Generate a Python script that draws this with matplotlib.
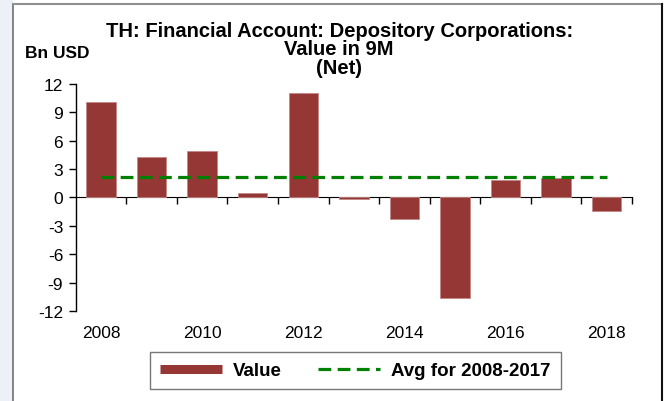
import numpy as np
import matplotlib.pyplot as plt
from matplotlib.lines import Line2D
from matplotlib.patches import Rectangle
from matplotlib.ticker import NullFormatter

# data
years = [2008, 2009, 2010, 2011, 2012, 2013, 2014, 2015, 2016, 2017, 2018]
values = [10.1, 4.3, 4.9, 0.5, 11.0, -0.2, -2.3, -10.6, 1.8, 2.1, -1.4]
avg_span = [2008, 2018]
avg_value = np.mean(values[:10])  # Avg for 2008-2017
yticks = list(range(-12, 13, 3))
xlabels = [2008, 2010, 2012, 2014, 2016, 2018]

plt.rcParams['font.family'] = ['Liberation Sans', 'DejaVu Sans']
plt.rcParams['axes.unicode_minus'] = False

fig = plt.figure(figsize=(6.69, 4.02), dpi=100)

# faint strip left of the frame and the frame itself
fig.add_artist(Rectangle((0, 0), 12/669, 1, transform=fig.transFigure,
                         color='#eef0f8', zorder=0))
fig.add_artist(Line2D([13/669, 13/669], [0, 1-5/402], transform=fig.transFigure,
                      color='#707070', lw=1.2))
fig.add_artist(Line2D([13/669, 662/669], [1-5/402, 1-5/402], transform=fig.transFigure,
                      color='#909090', lw=1.5))
fig.add_artist(Line2D([662/669, 662/669], [0, 1-5/402], transform=fig.transFigure,
                      color='#111111', lw=1.5))

ax = fig.add_axes([0.1131, 0.2239, 0.8316, 0.5647])
ax.bar(years, values, width=0.58, color='#953735', edgecolor='#c48886',
       linewidth=0.6, zorder=2)
ax.plot(avg_span, [avg_value]*2, color='#008000', lw=2.3,
        linestyle=(0, (4, 2)), zorder=3)

ax.set_xlim(2007.5, 2018.5)
ax.set_ylim(-12, 12)
ax.set_yticks(yticks)
ax.set_xticks(xlabels)
ax.tick_params(axis='x', length=0, labelsize=12.5, pad=10)
ax.tick_params(axis='y', length=5, width=1, labelsize=12.5, pad=4)
for s in ['top', 'right', 'bottom']:
    ax.spines[s].set_visible(False)
ax.spines['left'].set_linewidth(1)

# zero line with category boundary ticks
zero = ax.secondary_xaxis(0.5)
zero.set_xticks(np.arange(2008.5, 2019, 1))
zero.xaxis.set_major_formatter(NullFormatter())
zero.tick_params(length=5, width=1, direction='in',
                 labelbottom=False, labeltop=False)
zero.spines['bottom'].set_color('#8c8c8c')
zero.spines['bottom'].set_linewidth(1.5)

fig.text(0.507, 1-74/402, 'TH: Financial Account: Depository Corporations:\nValue in 9M\n(Net)',
         ha='center', va='baseline', fontsize=14.5, fontweight='bold',
         linespacing=0.97)
fig.text(0.037, 1-58/402, 'Bn USD', ha='left', va='baseline', fontsize=12.5,
         fontweight='bold')

handles = [Line2D([], [], color='#953735', lw=6.5, solid_capstyle='butt'),
           Line2D([], [], color='#008000', lw=2.3, linestyle=(0, (4, 2)))]
leg = fig.legend(handles, ['Value', 'Avg for 2008-2017'], loc='center',
                 bbox_to_anchor=(0.531, 1-371.5/402), ncol=2, frameon=True,
                 fancybox=False, handlelength=3.3, handletextpad=0.6,
                 columnspacing=1.9, prop={'weight': 'bold', 'size': 13.5},
                 borderpad=0.55)
leg.get_frame().set_edgecolor('#555555')
leg.get_frame().set_linewidth(1)

fig.savefig('out.png', dpi=100)
